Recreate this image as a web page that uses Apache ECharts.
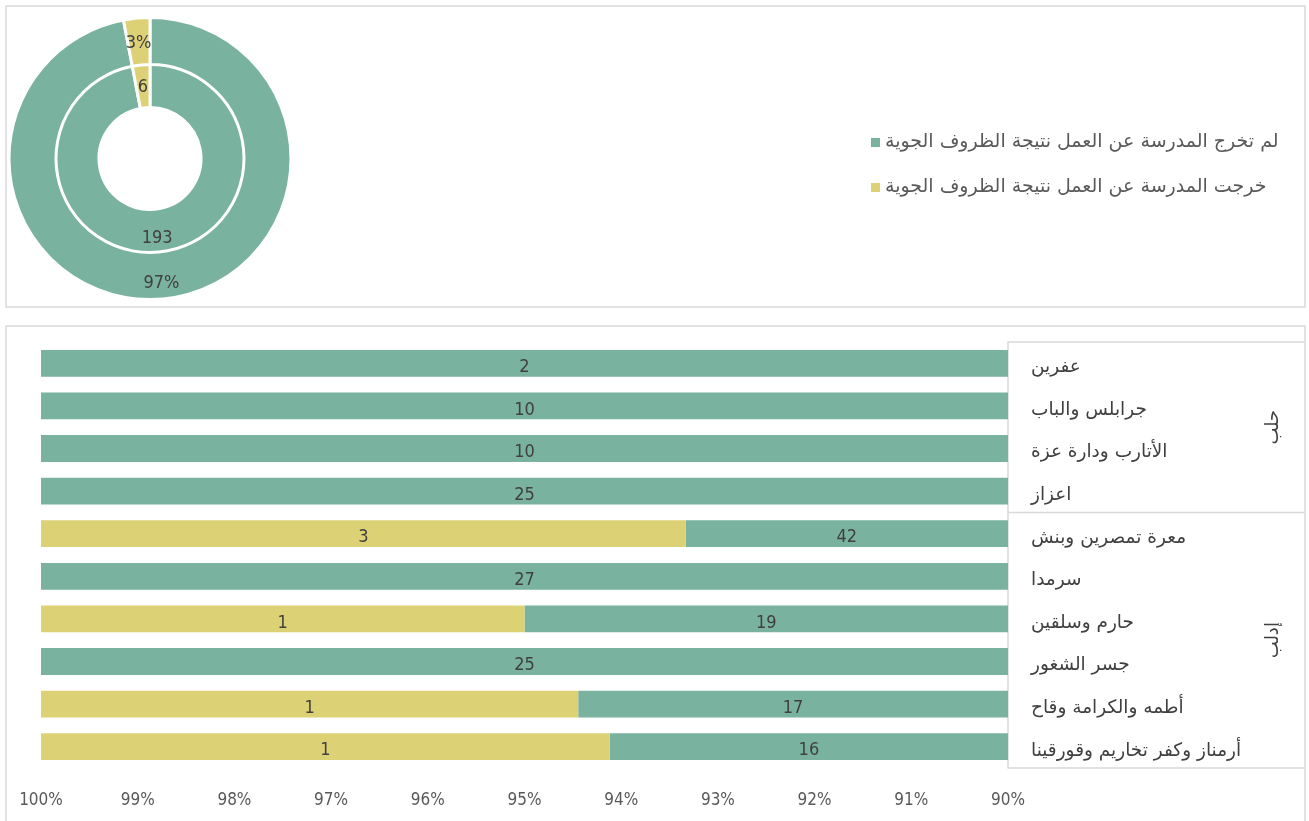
<!DOCTYPE html>
<html>
<head>
<meta charset="utf-8">
<script src="https://cdn.jsdelivr.net/npm/echarts@6/dist/echarts.min.js"></script>
<style>
html,body{margin:0;padding:0;background:#fff;}
#main{width:1309px;height:821px;}
</style>
</head>
<body>
<div id="main"></div>
<script>
// ---- data ----
const seriesNames = ['لم تخرج المدرسة عن العمل نتيجة الظروف الجوية', 'خرجت المدرسة عن العمل نتيجة الظروف الجوية'];
const pieValues = [193, 6];
const categories = ['عفرين', 'جرابلس والباب', 'الأتارب ودارة عزة', 'اعزاز', 'معرة تمصرين وبنش', 'سرمدا', 'حارم وسلقين', 'جسر الشغور', 'أطمه والكرامة وقاح', 'أرمناز وكفر تخاريم وقورقينا'];
const groupNames = ['حلب', 'إدلب'];
const groupSizes = [4, 6];
const notExited = [2, 10, 10, 25, 42, 27, 19, 25, 17, 16];
const exited = [0, 0, 0, 0, 3, 0, 1, 0, 1, 1];
const axisMin = 90, axisMax = 100, axisStep = 1;

// ---- style ----
const GREEN = '#79b29e', YELLOW = '#ddd176';
const NUMFONT = '"DejaVu Sans Condensed","Liberation Sans Narrow","Roboto",sans-serif';
const ARFONT = '"DejaVu Sans","Noto Sans",sans-serif';

const totals = notExited.map((v, i) => v + exited[i]);
const greenPct = notExited.map((v, i) => v / totals[i] * 100);
const yellowPct = exited.map((v, i) => v / totals[i] * 100);

const chart = echarts.init(document.getElementById('main'), null, {renderer: 'canvas'});

const pieCommon = {
  type: 'pie', center: [150, 158.5], startAngle: 90, clockwise: true,
  avoidLabelOverlap: false, silent: true,
  itemStyle: {borderColor: '#fff', borderWidth: 3},
  labelLine: {show: false},
  color: [GREEN, YELLOW]
};
const shiftedLabel = {color: '#404040', fontFamily: NUMFONT, fontSize: 18, verticalAlign: 'top', lineHeight: 8};
const pieRich = {v: {color: '#404040', fontFamily: NUMFONT, fontSize: 18, padding: [9, 0, 0, 0]}};

const option = {
  animation: false,
  color: [GREEN, YELLOW],
  legend: {
    orient: 'vertical', left: 866, top: 128, itemGap: 26,
    icon: 'rect', itemWidth: 9, itemHeight: 9,
    data: seriesNames,
    textStyle: {fontFamily: ARFONT, fontSize: 19, color: '#595959'},
    selectedMode: false
  },
  grid: {left: 41, right: 301, top: 342, bottom: 53, containLabel: false},
  xAxis: {
    type: 'value', min: axisMin, max: axisMax, interval: axisStep, inverse: true,
    axisLine: {show: false}, axisTick: {show: false}, splitLine: {show: false},
    axisLabel: {formatter: '{value}%', color: '#595959', fontFamily: NUMFONT, fontSize: 17, margin: 24}
  },
  yAxis: {
    type: 'category', data: categories, inverse: true, position: 'right',
    axisLine: {show: true, lineStyle: {color: '#d9d9d9', width: 1.5}},
    axisTick: {show: false},
    axisLabel: {align: 'left', margin: 23, color: '#404040', fontFamily: ARFONT, fontSize: 18.5, verticalAlign: 'top', lineHeight: 8}
  },
  series: [
    Object.assign({}, pieCommon, {
      name: 'inner', radius: [51, 95],
      label: {show: true, position: 'inside', formatter: p => '{v|' + p.value + '}', rich: pieRich},
      data: seriesNames.map((n, i) => ({name: n, value: pieValues[i]}))
    }),
    Object.assign({}, pieCommon, {
      name: 'outer', radius: [94, 141],
      label: {show: true, position: 'inside', formatter: p => '{v|' + Math.round(p.percent) + '%}', rich: pieRich},
      data: seriesNames.map((n, i) => ({name: n, value: pieValues[i]}))
    }),
    {
      name: seriesNames[0], type: 'bar', stack: 'total', barCategoryGap: '37%',
      itemStyle: {color: GREEN}, silent: true,
      label: Object.assign({show: true, position: 'inside',
        formatter: p => notExited[p.dataIndex] ? String(notExited[p.dataIndex]) : ''}, shiftedLabel),
      data: greenPct
    },
    {
      name: seriesNames[1], type: 'bar', stack: 'total', barCategoryGap: '37%',
      itemStyle: {color: YELLOW}, silent: true,
      label: Object.assign({show: true, position: 'inside',
        formatter: p => exited[p.dataIndex] ? String(exited[p.dataIndex]) : ''}, shiftedLabel),
      data: yellowPct
    }
  ]
};
chart.setOption(option);

// panel frames and grouping box built from the axes' own pixel positions
const c0 = chart.convertToPixel({yAxisIndex: 0}, categories[0]);
const c1 = chart.convertToPixel({yAxisIndex: 0}, categories[1]);
const band = c1 - c0;
const gridTop = c0 - band / 2;
const xAxisEnd = chart.convertToPixel({xAxisIndex: 0}, axisMin);
const boxRight = 1305;
const graphics = [
  {type: 'rect', shape: {x: 6, y: 6, width: 1299, height: 301}, style: {fill: 'none', stroke: '#d9d9d9', lineWidth: 1.5}, z: -1},
  {type: 'rect', shape: {x: 6, y: 326, width: 1299, height: 520}, style: {fill: 'none', stroke: '#d9d9d9', lineWidth: 1.5}, z: -1}
];
let start = 0;
graphics.push({type: 'line', shape: {x1: xAxisEnd, y1: gridTop, x2: boxRight, y2: gridTop}, style: {stroke: '#d9d9d9', lineWidth: 1.5}});
groupSizes.forEach((sz, g) => {
  const yEnd = gridTop + (start + sz) * band;
  graphics.push({type: 'line', shape: {x1: xAxisEnd, y1: yEnd, x2: boxRight, y2: yEnd}, style: {stroke: '#d9d9d9', lineWidth: 1.5}});
  const yMid = gridTop + (start + sz / 2) * band;
  graphics.push({type: 'text', x: 1273, y: yMid, rotation: Math.PI / 2,
    style: {text: groupNames[g], fill: '#404040', font: '18px ' + ARFONT, textAlign: 'center', textVerticalAlign: 'middle'}});
  start += sz;
});
chart.setOption({graphic: graphics});
</script>
</body>
</html>
